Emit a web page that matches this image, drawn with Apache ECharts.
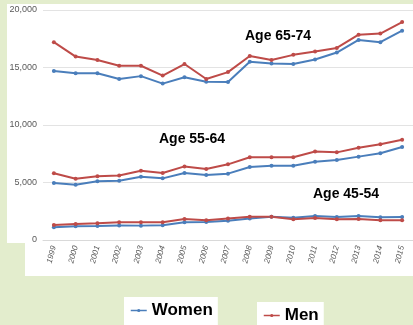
<!DOCTYPE html>
<html>
<head>
<meta charset="utf-8">
<script src="https://cdn.jsdelivr.net/npm/echarts@6/dist/echarts.min.js"></script>
<style>
  html, body { margin: 0; padding: 0; background: #e3edcd; }
  #chart { width: 413px; height: 325px; }
</style>
</head>
<body>
<div id="chart"></div>
<script>
// Years on the category axis
const years = ['1999','2000','2001','2002','2003','2004','2005','2006','2007','2008','2009','2010','2011','2012','2013','2014','2015'];

// Value-axis ticks
const yTicks = [0, 5000, 10000, 15000, 20000];

// Age 65-74
const women6574 = [14700,14500,14500,14000,14250,13600,14150,13770,13740,15500,15350,15300,15700,16300,17400,17200,18200];
const men6574   = [17200,15950,15650,15150,15150,14300,15300,14000,14600,16000,15650,16100,16400,16700,17850,17950,18950];

// Age 55-64
const women5564 = [4960,4810,5100,5160,5500,5360,5830,5650,5770,6350,6460,6460,6810,6960,7250,7540,8090];
const men5564   = [5800,5330,5540,5600,6030,5830,6400,6170,6580,7190,7190,7200,7700,7620,8030,8320,8720];

// Age 45-54
const women4554 = [1100,1190,1220,1270,1250,1280,1540,1570,1680,1860,2030,1940,2090,2000,2090,1970,2000];
const men4554   = [1300,1390,1450,1540,1540,1540,1830,1710,1880,2030,2030,1800,1910,1800,1830,1710,1710];

const groupLabels = ['Age 65-74', 'Age 55-64', 'Age 45-54'];

const BLUE = '#4a7ebb';
const RED = '#be4b48';

function lineSeries(name, data, color) {
  return {
    name: name,
    type: 'line',
    data: data,
    symbol: 'circle',
    symbolSize: 4,
    lineStyle: { color: color, width: 2 },
    itemStyle: { color: color },
    animation: false
  };
}

const chart = echarts.init(document.getElementById('chart'));

const FONT = 'Liberation Sans, Arial, sans-serif';
const labelStyle = { fontFamily: FONT, fontWeight: 'bold', fontSize: 14, fill: '#000' };

function legendBox(name, left, top) {
  return {
    data: [name],
    left: left, top: top,
    backgroundColor: '#ffffff',
    padding: [5, 5, 6, 6],
    itemWidth: 16, itemHeight: 4, itemGap: 4,
    lineStyle: { width: 1.5 },
    textStyle: { fontFamily: FONT, fontWeight: 'bold', fontSize: 17, color: '#000' }
  };
}

chart.setOption({
  backgroundColor: '#e3edcd',
  animation: false,
  grid: { left: 43, right: -4, top: 10, bottom: 85, containLabel: false },
  graphic: [
    { type: 'rect', z: -10, shape: { x: 7, y: 4, width: 406, height: 239 }, style: { fill: '#ffffff' } },
    { type: 'rect', z: -10, shape: { x: 25, y: 243, width: 388, height: 33 }, style: { fill: '#ffffff' } },
    { type: 'text', left: 245, top: 29, style: Object.assign({ text: groupLabels[0] }, labelStyle) },
    { type: 'text', left: 159, top: 132, style: Object.assign({ text: groupLabels[1] }, labelStyle) },
    { type: 'text', left: 313, top: 187, style: Object.assign({ text: groupLabels[2] }, labelStyle) }
  ],
  legend: [
    legendBox('Women', 124, 297),
    legendBox('Men', 257, 302)
  ],
  xAxis: {
    type: 'category',
    data: years,
    boundaryGap: true,
    axisLine: { lineStyle: { color: '#d9d9d9' } },
    axisTick: { show: false },
    axisLabel: { rotate: 75, fontSize: 8, fontStyle: 'italic', color: '#595959', margin: 6, interval: 0, fontFamily: FONT }
  },
  yAxis: {
    type: 'value',
    min: yTicks[0],
    max: yTicks[yTicks.length - 1],
    interval: yTicks[1] - yTicks[0],
    axisLine: { show: false },
    axisTick: { show: false },
    splitLine: { lineStyle: { color: '#e3e3e3' } },
    axisLabel: {
      fontSize: 9, color: '#595959', margin: 6, fontFamily: FONT,
      formatter: v => v.toLocaleString('en-US')
    }
  },
  series: [
    lineSeries('Women', women6574, BLUE),
    lineSeries('Men', men6574, RED),
    lineSeries('Women', women5564, BLUE),
    lineSeries('Men', men5564, RED),
    lineSeries('Women', women4554, BLUE),
    lineSeries('Men', men4554, RED)
  ]
});
</script>
</body>
</html>
